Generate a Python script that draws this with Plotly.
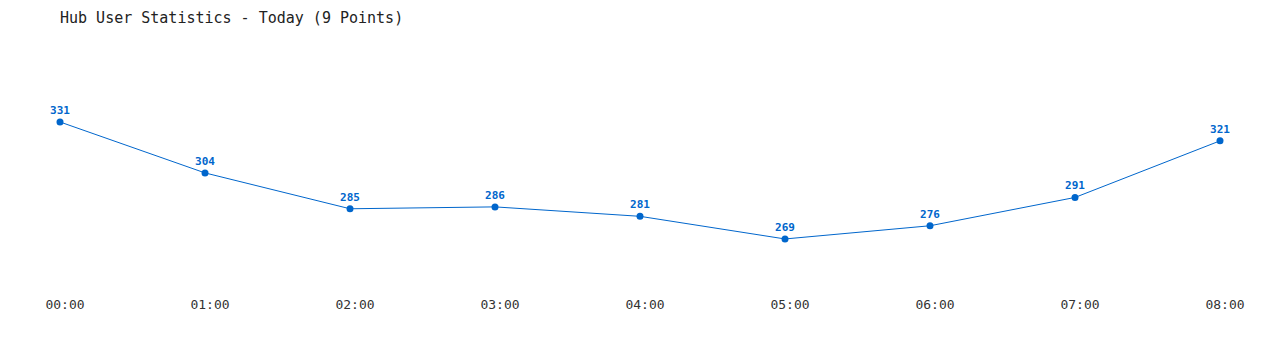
import plotly.graph_objects as go

times = ["00:00", "01:00", "02:00", "03:00", "04:00", "05:00", "06:00", "07:00", "08:00"]
users = [331, 304, 285, 286, 281, 269, 276, 291, 321]
title_text = "Hub User Statistics - Today (9 Points)"

color = "#0066cc"
font_family = "DejaVu Sans Mono, Liberation Mono, monospace"

fig = go.Figure(go.Scatter(
    x=list(range(len(times))),
    y=users,
    mode="lines+markers+text",
    line=dict(color=color, width=1),
    marker=dict(color=color, size=7),
    text=[f"<b>{v}</b>" for v in users],
    textposition="top center",
    textfont=dict(family=font_family, size=11, color=color),
    cliponaxis=False,
    hoverinfo="x+y",
))

fig.update_layout(
    width=1280, height=350,
    margin=dict(l=60, r=60, t=40, b=60),
    paper_bgcolor="white", plot_bgcolor="white",
    showlegend=False,
    title=dict(text=title_text, xref="container", x=60/1280, xanchor="left",
               y=1, yref="container", yanchor="top", pad=dict(t=12, l=0),
               font=dict(family=font_family, size=15, color="#222")),
)
fig.update_xaxes(
    range=[0, len(times) - 1],
    tickvals=list(range(len(times))), ticktext=times,
    showgrid=False, zeroline=False, showline=False, ticks="",
    tickfont=dict(family=font_family, size=13, color="#333"),
    ticklabelshift=5, ticklabelstandoff=5,
)
fig.update_yaxes(
    range=[241.95, 374.45],
    showgrid=False, zeroline=False, showline=False, showticklabels=False, ticks="",
)

fig.write_html("out.html")
